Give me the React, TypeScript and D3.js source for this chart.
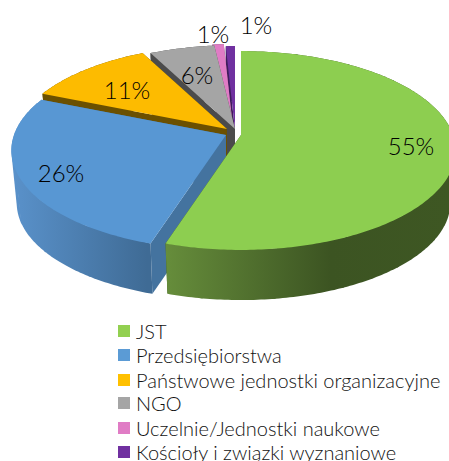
import React from "react";
import * as d3 from "d3";

const categories = ["JST", "Przedsiębiorstwa", "Państwowe jednostki organizacyjne", "NGO", "Uczelnie/Jednostki naukowe", "Kościoły i związki wyznaniowe"];
const values = [54.9, 26.4, 11.2, 5.7, 1.0, 0.8];
const percentLabels = ["55%", "26%", "11%", "6%", "1%", "1%"];
const topColors = ["#8dce50", "#5897d3", "#fdbb00", "#a5a5a5", "#e07cc5", "#7030a0"];
const cutColors = ["#3c5422", "#44739f", "#6b5000", "#4b4b4b", "#7a4f70", "#3f1c5c"];
const rimColors = ["url(#rimGreen)", "url(#rimBlue)", "#6b5000", "#4b4b4b", "#7a4f70", "#3f1c5c"];
const legendColors = ["#92d050", "#5b9bd5", "#ffc000", "#a5a5a5", "#e07cc5", "#7030a0"];
const apexX = [241, 226, 227, 235, 233, 235];
const apexY = [135, 135, 129, 129, 128, 130];
const labelX = [411, 61, 127, 197, 213, 256];
const labelY = [145, 172, 89, 74, 33, 24];
const legendY = [331, 355, 380, 403, 428, 452];

const RX = 212, RY = 97, P = 0.156, DEPTH = 53, SHRINK = 0.975;

type Pt = [number, number];
const line = d3.line<Pt>().x((d) => d[0]).y((d) => d[1]);

function project(i: number, a: number): Pt {
  const u = Math.sin(a), v = -Math.cos(a), w = 1 - P * v;
  return [apexX[i] + (RX * u) / w, apexY[i] + (RY * v) / w];
}
function lower(i: number, p: Pt): Pt {
  return [apexX[i] + (p[0] - apexX[i]) * SHRINK, apexY[i] + (p[1] - apexY[i]) * SHRINK + DEPTH];
}

const arcs = d3.pie<number>().sort(null)(values);
const CHUNK = 20;

export default function App() {
  const order = d3.range(values.length).reverse();
  return (
    <svg width={449} height={461} style={{ position: "absolute", left: 0, top: 0 }} fontFamily="Lato, 'Open Sans', sans-serif">
      <defs>
        <linearGradient id="rimGreen" gradientUnits="userSpaceOnUse" x1={166} x2={449} y1={0} y2={0}>
          <stop offset="0" stopColor="#668d3b" />
          <stop offset="0.58" stopColor="#3c5422" />
          <stop offset="1" stopColor="#3e5723" />
        </linearGradient>
        <linearGradient id="rimBlue" gradientUnits="userSpaceOnUse" x1={11} x2={147} y1={0} y2={0}>
          <stop offset="0" stopColor="#5a92cb" />
          <stop offset="1" stopColor="#3f6b95" />
        </linearGradient>
      </defs>
      {order.map((i) => {
        const arc = arcs[i];
        const n = Math.max(2, Math.ceil((arc.endAngle - arc.startAngle) / 0.015));
        const pts: Pt[] = d3.range(n + 1).map((k) => project(i, arc.startAngle + ((arc.endAngle - arc.startAngle) * k) / n));
        const low = pts.map((p) => lower(i, p));
        const apex: Pt = [apexX[i], apexY[i]];
        const apexLow = lower(i, apex);
        const cutA = [apex, pts[0], low[0], apexLow];
        const cutB = [apex, pts[n], low[n], apexLow];
        const chunks = d3.range(0, n, CHUNK).map((s) => {
          const e = Math.min(n, s + CHUNK + 1) + 1;
          return d3.polygonHull([...pts.slice(s, e), ...low.slice(s, e)]) as Pt[];
        });
        return (
          <g key={i}>
            <path d={line(cutB) + "Z"} fill={cutColors[i]} />
            <path d={line(cutA) + "Z"} fill={cutColors[i]} />
            {chunks.map((h, k) => (
              <path key={k} d={line(h) + "Z"} fill={rimColors[i]} />
            ))}
            <path d={line([apex, ...pts]) + "Z"} fill={topColors[i]} />
          </g>
        );
      })}
      {percentLabels.map((t, i) => (
        <text key={i} x={labelX[i]} y={labelY[i]} textAnchor="middle" dominantBaseline="central" fontSize={24} fontWeight={300} fill="#000">{t}</text>
      ))}
      {categories.map((c, i) => (
        <g key={c}>
          <rect x={118} y={legendY[i] - 6} width={12} height={12} fill={legendColors[i]} />
          <text x={136} y={legendY[i]} dominantBaseline="central" fontSize={20} fontWeight={300} fill="#111">{c}</text>
        </g>
      ))}
    </svg>
  );
}
